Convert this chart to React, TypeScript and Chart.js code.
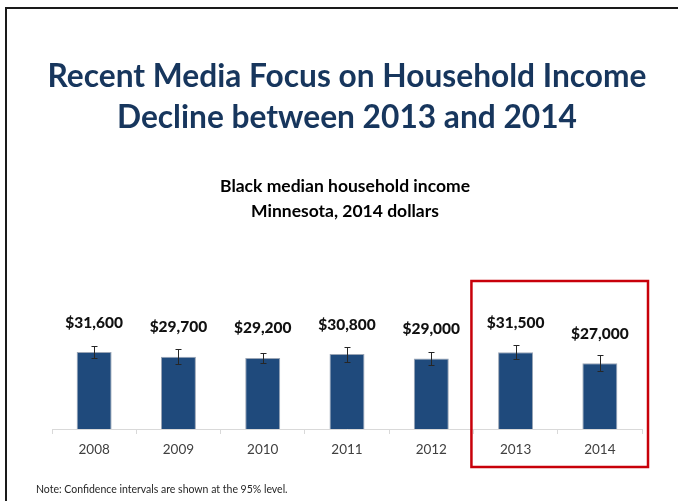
import React, { useEffect, useRef } from "react";
import { Chart, registerables } from "chart.js";

Chart.register(...registerables);

const years = ["2008", "2009", "2010", "2011", "2012", "2013", "2014"];
const incomes = [31600, 29700, 29200, 30800, 29000, 31500, 27000];
const confidence = [2600, 3000, 2100, 3100, 2500, 2900, 3300];
const titleLines = ["Recent Media Focus on Household Income", "Decline between 2013 and 2014"];
const subtitleLines = ["Black median household income", "Minnesota, 2014 dollars"];
const noteText = "Note: Confidence intervals are shown at the 95% level.";
const highlightedYears = ["2013", "2014"];

const FONT = "Lato, 'Open Sans', sans-serif";

const overlayPlugin = {
  id: "overlay",
  beforeDraw(chart: any) {
    const ctx = chart.ctx;
    ctx.save();
    ctx.fillStyle = "#ffffff";
    ctx.fillRect(0, 0, chart.width, chart.height);
    ctx.restore();
  },
  afterDatasetsDraw(chart: any) {
    const ctx = chart.ctx;
    const xs = chart.scales.x;
    const ys = chart.scales.y;
    const meta = chart.getDatasetMeta(0);
    ctx.save();
    // error bars
    ctx.strokeStyle = "#262626";
    ctx.lineWidth = 1;
    meta.data.forEach((bar: any, i: number) => {
      const v = incomes[i];
      const e = confidence[i];
      const top = Math.round(ys.getPixelForValue(v + e)) + 0.5;
      const bot = Math.round(ys.getPixelForValue(v - e)) + 0.5;
      const cx = Math.round(bar.x) + 0.5;
      ctx.beginPath();
      ctx.moveTo(cx, top);
      ctx.lineTo(cx, bot);
      ctx.moveTo(cx - 3, top);
      ctx.lineTo(cx + 3, top);
      ctx.moveTo(cx - 3, bot);
      ctx.lineTo(cx + 3, bot);
      ctx.stroke();
    });
    // value labels
    ctx.fillStyle = "#111111";
    ctx.font = `900 15.5px ${FONT}`;
    ctx.textAlign = "center";
    ctx.textBaseline = "alphabetic";
    meta.data.forEach((bar: any, i: number) => {
      ctx.fillText("$" + incomes[i].toLocaleString("en-US"), bar.x, bar.y - 24.5);
    });
    // titles
    ctx.fillStyle = "#17365d";
    ctx.font = `bold 31.7px ${FONT}`;
    ctx.fillText(titleLines[0], 347, 87);
    ctx.fillText(titleLines[1], 347, 128);
    ctx.fillStyle = "#000000";
    ctx.font = `bold 17.5px ${FONT}`;
    ctx.fillText(subtitleLines[0], 345, 192);
    ctx.fillText(subtitleLines[1], 345, 217);
    // note
    ctx.textAlign = "left";
    ctx.fillStyle = "#262626";
    ctx.font = `10.5px ${FONT}`;
    ctx.fillText(noteText, 36, 493);
    // highlight box
    const catW = (xs.right - xs.left) / years.length;
    const i0 = years.indexOf(highlightedYears[0]);
    const i1 = years.indexOf(highlightedYears[highlightedYears.length - 1]);
    const left = xs.getPixelForValue(i0) - catW / 2 - 2;
    const right = xs.getPixelForValue(i1) + catW / 2 + 6;
    ctx.strokeStyle = "#c8000a";
    ctx.lineWidth = 2.5;
    ctx.strokeRect(left, 281, right - left, 186);
    // slide border
    ctx.strokeStyle = "#1a1a1a";
    ctx.lineWidth = 2;
    ctx.strokeRect(6, 8, 720, 520);
    ctx.restore();
  },
};

export default function App() {
  const ref = useRef<HTMLCanvasElement | null>(null);
  useEffect(() => {
    document.body.style.margin = "0";
    const canvas = ref.current;
    if (!canvas) return;
    const chart = new Chart(canvas, {
      type: "bar",
      data: {
        labels: years,
        datasets: [
          {
            data: incomes,
            backgroundColor: "#1f4a7c",
            borderColor: "#9aa5b5",
            borderWidth: 1,
            barPercentage: 0.415,
            categoryPercentage: 1,
          },
        ],
      },
      options: {
        responsive: false,
        maintainAspectRatio: false,
        animation: false,
        devicePixelRatio: 1,
        layout: { padding: { left: 52, right: 36, top: 283, bottom: 42 } },
        plugins: {
          legend: { display: false },
          tooltip: { enabled: false },
          title: { display: false },
        },
        scales: {
          x: {
            offset: true,
            grid: {
              offset: true,
              drawOnChartArea: false,
              drawTicks: true,
              tickLength: 5,
              color: "#d9d9d9",
            },
            border: { display: true, color: "#d9d9d9", width: 1 },
            ticks: {
              color: "#404040",
              font: { family: FONT, size: 13.5 },
              padding: 8,
            },
            afterFit: (scale: any) => {
              scale.height = 30;
            },
          },
          y: {
            display: false,
            min: 0,
            max: 60000,
          },
        },
      },
      plugins: [overlayPlugin],
    });
    return () => chart.destroy();
  }, []);
  return (
    <div style={{ position: "absolute", left: 0, top: 0, width: 678, height: 501 }}>
      <canvas ref={ref} width={678} height={501} style={{ display: "block" }} />
    </div>
  );
}
